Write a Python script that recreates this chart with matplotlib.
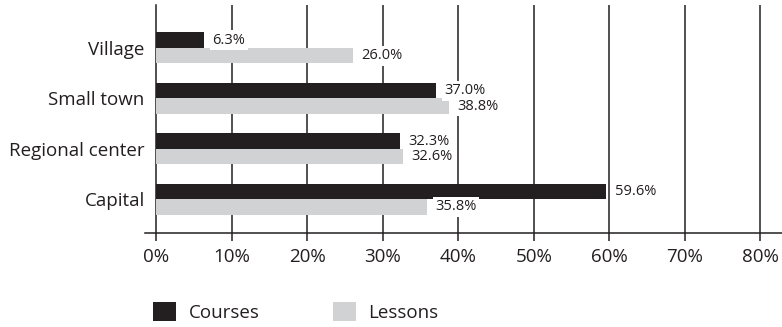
import matplotlib.pyplot as plt
from matplotlib.patches import Patch

# Share of respondents by settlement type
categories = ["Village", "Small town", "Regional center", "Capital"]
courses = [6.3, 37.0, 32.3, 59.6]
lessons = [26.0, 38.8, 32.6, 35.8]
xticks = [0, 10, 20, 30, 40, 50, 60, 70, 80]

dark = "#231f20"
light = "#d1d2d4"

plt.rcParams["font.family"] = ["Open Sans", "DejaVu Sans"]

fig = plt.figure(figsize=(7.82, 3.27), dpi=100)
ax = fig.add_axes([145 / 782, 1 - 233 / 327, 1 - 145 / 782, (233 - 5) / 327])

n = len(categories)
pos = [n - 1 - i for i in range(n)]
h = 0.307

ax.barh([p + h / 2 for p in pos], courses, height=h, color=dark, zorder=3)
ax.barh([p - h / 2 for p in pos], lessons, height=h, color=light, zorder=3)

# value labels sit on a white box so the grid lines don't cross them
box = dict(facecolor="white", edgecolor="none", pad=1.8)
for p, c, l in zip(pos, courses, lessons):
    ax.text(c + 1.1, p + h / 2, f"{c:.1f}%", va="center", ha="left",
            fontsize=10.5, color=dark, bbox=box, zorder=4)
    ax.text(l + 1.1, p - h / 2, f"{l:.1f}%", va="center", ha="left",
            fontsize=10.5, color=dark, bbox=box, zorder=4)

ax.set_xlim(-1.52, 82.85)
ax.set_ylim(-0.67, 3.85)

ax.set_xticks(xticks)
ax.set_xticklabels([f"{t}%" for t in xticks])
ax.set_yticks(pos)
ax.set_yticklabels(categories)
ax.tick_params(axis="y", length=0, pad=8.5, labelsize=13.5, labelcolor=dark)
ax.tick_params(axis="x", length=6, width=1.1, color=dark, pad=5,
               labelsize=13.5, labelcolor=dark)

for t in xticks[1:]:
    ax.axvline(t, color=dark, lw=1.1, zorder=1)

for side in ["top", "right"]:
    ax.spines[side].set_visible(False)
ax.spines["left"].set_position(("data", 0))
ax.spines["left"].set_color(dark)
ax.spines["left"].set_linewidth(1.1)
ax.spines["bottom"].set_color(dark)
ax.spines["bottom"].set_linewidth(1.1)

handles = [Patch(facecolor=dark, label="Courses"),
           Patch(facecolor=light, label="Lessons")]
fig.legend(handles=handles, loc="center left", bbox_to_anchor=(136 / 782, 1 - 312 / 327),
           ncol=2, frameon=False, fontsize=13.5, handlelength=1.25, handleheight=1.2,
           handletextpad=0.65, columnspacing=3.9, labelcolor=dark)

fig.savefig("out.png", dpi=100)
